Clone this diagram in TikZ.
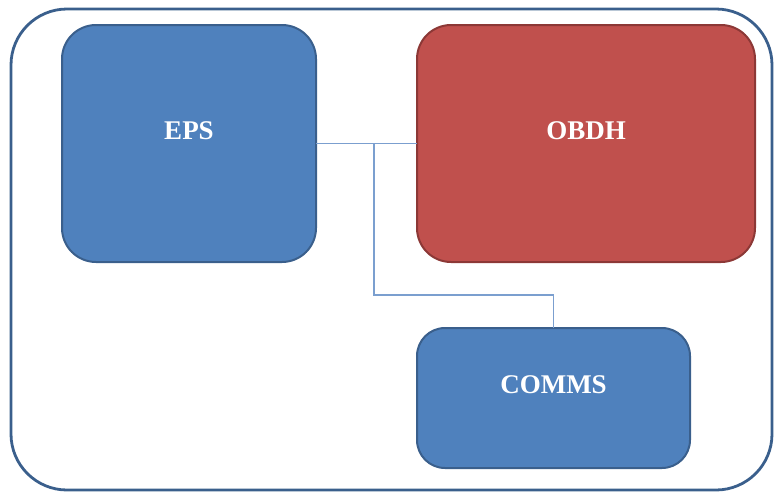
\documentclass[tikz,border=0pt]{standalone}
\usepackage{fontspec}
\setmainfont{Liberation Serif}
\definecolor{boxblue}{HTML}{4F81BD}
\definecolor{edgeblue}{HTML}{3A5F8C}
\definecolor{boxred}{HTML}{C0504D}
\definecolor{edgered}{HTML}{8C3836}
\definecolor{wireblue}{HTML}{7B9FCF}
\tikzset{
  tag/.style={text=white, font=\fontsize{27}{31}\selectfont\bfseries},
  unit/.style={draw=edgeblue, fill=boxblue, line width=2pt, rounded corners=34pt,
    inner sep=0pt, outer sep=0pt},
  unitred/.style={unit, draw=edgered, fill=boxred},
  wire/.style={draw=wireblue, line width=1.6pt},
}
\begin{document}
\begin{tikzpicture}[x=1pt,y=-1pt]
\useasboundingbox (0,0) rectangle (776,496);
% enclosing frame
\draw[edgeblue, line width=2.8pt, rounded corners=56pt] (11,9) rectangle (772,490);
% subsystem boxes, titles set a little above centre
\node[unit, minimum width=254pt, minimum height=237pt,
      label={[tag, yshift=13pt]center:EPS}] (eps) at (189,143.5) {};
\node[unitred, minimum width=338pt, minimum height=237pt,
      label={[tag, yshift=13pt]center:OBDH}] (obdh) at (586,143.5) {};
\node[unit, rounded corners=28pt, minimum width=273pt, minimum height=140pt,
      label={[tag, yshift=13pt]center:COMMS}] (comms) at (553.5,398) {};
% bus wiring
\coordinate (tap) at (374,143.5);
\coordinate (bend) at (comms.north |- 0,295);
\draw[wire] (eps.east) -- (obdh.west);
\draw[wire] (tap) |- (bend) -- (comms.north);
\end{tikzpicture}
\end{document}
